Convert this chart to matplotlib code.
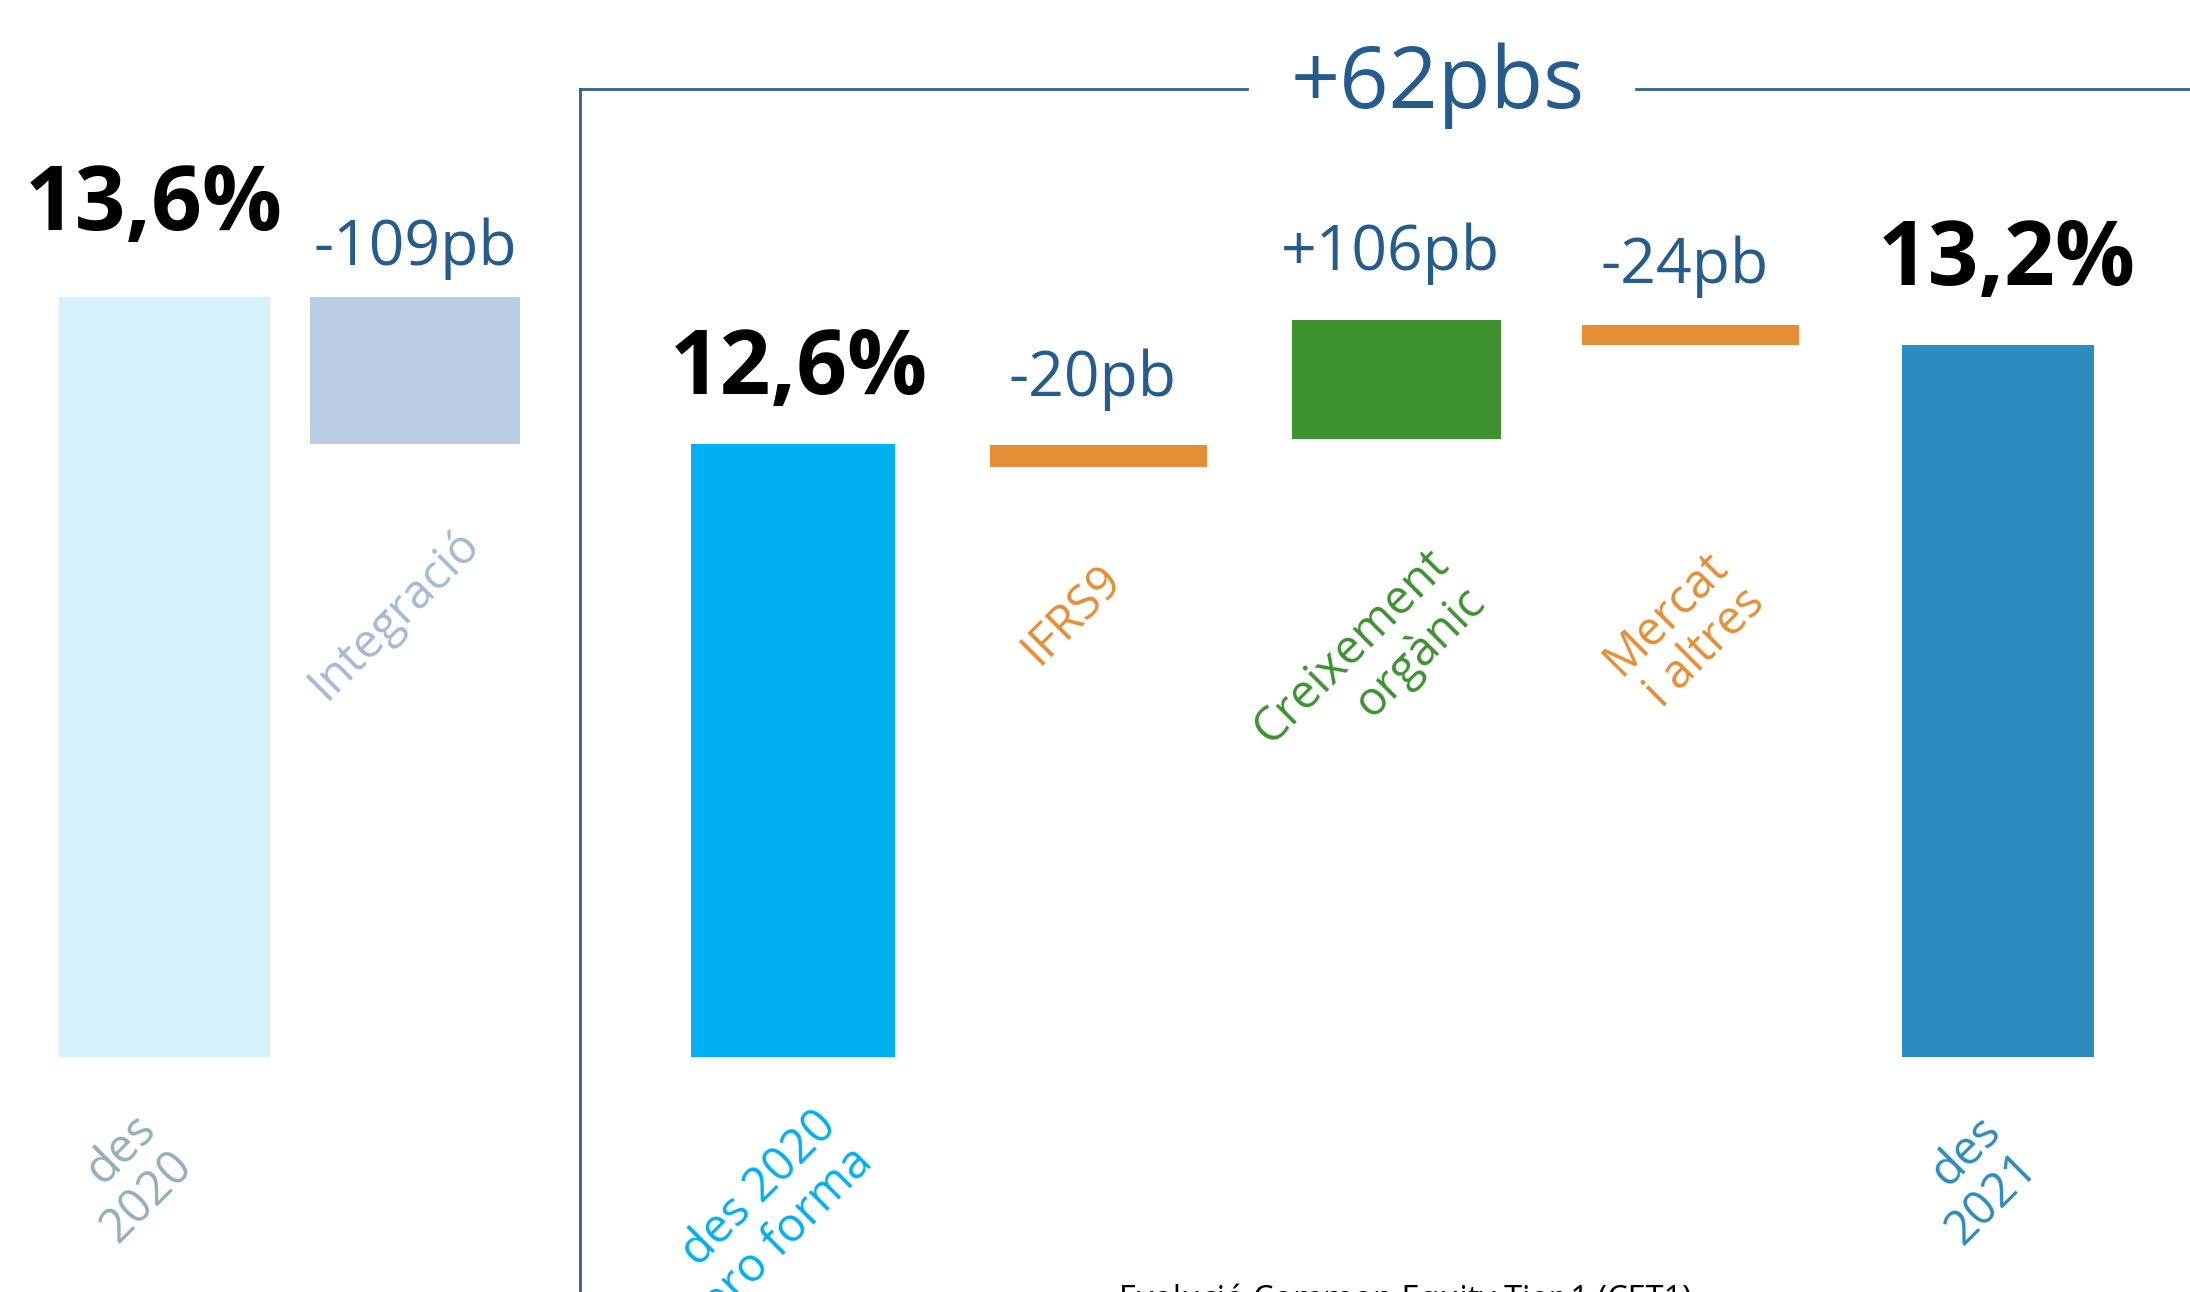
import matplotlib.pyplot as plt

plt.rcParams['font.family'] = ['Open Sans', 'DejaVu Sans']

# data (CET1 ratio, %)
categories = ['des\n2020', 'Integració', 'des 2020\npro forma', 'IFRS9',
              'Creixement\norgànic', 'Mercat\ni altres', 'des\n2021']
value_labels = ['13,6%', '-109pb', '12,6%', '-20pb', '+106pb', '-24pb', '13,2%']
is_total = [True, False, True, False, False, False, True]
axis_floor = 8.43
bar_low = [axis_floor, 12.60, axis_floor, 12.44, 12.63, 13.27, axis_floor]
bar_high = [13.60, 13.60, 12.60, 12.59, 13.44, 13.41, 13.27]
bracket_label = '+62pbs'
footer = 'Evolució Common Equity Tier 1 (CET1)'

# layout
xpos = [0, 0.835, 2.095, 3.113, 4.107, 5.087, 6.112]
widths = [0.703, 0.70, 0.68, 0.723, 0.697, 0.723, 0.64]
bar_colors = ['#D5F1FA', '#BACDE4', '#00B0F0', '#E58E35', '#3D912F', '#E58E35', '#2C8BBF']
cat_colors = ['#93AFB9', '#A4BAD2', '#00B0F0', '#E58E35', '#3D912F', '#E58E35', '#2C8BBF']
label_gap = [0.456, 0.218, 0.340, 0.333, 0.340, 0.286, 0.408]
label_dx = [-0.035, 0, 0.02, -0.02, -0.02, -0.02, 0.03]
cat_dx = [-0.12, -0.07, -0.08, -0.09, -0.09, -0.02, -0.08]
cat_y = [7.60, 11.44, 7.35, 11.44, 11.09, 11.32, 7.59]
blue = '#255C8E'
line_col = '#2E5F8F'

fig = plt.figure(figsize=(21.9, 12.92), dpi=100)
ax = fig.add_axes([0, 0, 1, 1])
ax.set_xlim(-0.548, 6.752)
ax.set_ylim(6.83, 15.62)
ax.axis('off')

for i in range(len(categories)):
    ax.bar(xpos[i], bar_high[i] - bar_low[i], bottom=bar_low[i], width=widths[i],
           color=bar_colors[i], linewidth=0)
    if is_total[i]:
        ax.text(xpos[i] + label_dx[i], bar_high[i] + label_gap[i], value_labels[i],
                ha='center', va='baseline', fontsize=64, fontweight='bold', color='black')
    else:
        ax.text(xpos[i] + label_dx[i], bar_high[i] + label_gap[i], value_labels[i],
                ha='center', va='baseline', fontsize=45, color=blue)
    ax.text(xpos[i] + cat_dx[i], cat_y[i], categories[i], rotation=45,
            rotation_mode='anchor', ha='center', va='center', multialignment='right',
            fontsize=34, color=cat_colors[i], linespacing=1.12)

# bracket around the 2021 evolution
ax.plot([1.385, 1.385], [6.5, 15.015], color=line_col, lw=2, clip_on=False)
ax.plot([1.385, 3.608], [15.015, 15.015], color=line_col, lw=2, clip_on=False)
ax.plot([4.905, 6.8], [15.015, 15.015], color=line_col, lw=2, clip_on=False)
ax.text(4.245, 14.885, bracket_label, ha='center', va='baseline', fontsize=62, color=blue)

fig.text(1405 / 2190, -0.013, footer, ha='center', va='baseline', fontsize=23.5, color='black')

plt.savefig('out.png', dpi=100)
